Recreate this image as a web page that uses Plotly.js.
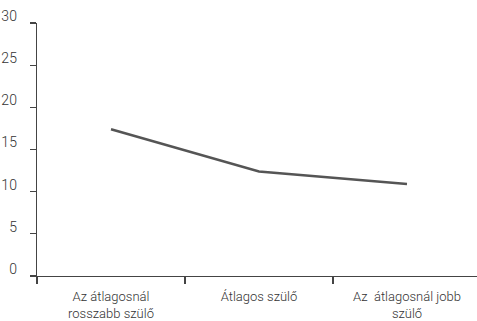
<!DOCTYPE html>
<html><head><meta charset="utf-8">
<script src="https://cdn.plot.ly/plotly-3.0.1.min.js"></script>
<style>body{margin:0;background:#fff}#c{width:477px;height:321px}</style>
</head><body><div id="c"></div>
<script>
const categories = ["Az átlagosnál<br>rosszabb szülő", "Átlagos szülő", "Az  átlagosnál jobb<br>szülő"];
const values = [17.4, 12.4, 10.9];
const yTicks = [0, 5, 10, 15, 20, 25, 30];

const font = {family: "Roboto, sans-serif", size: 13, color: "#333", weight: 300};
const yfont = {family: "Roboto, sans-serif", size: 14, color: "#333", weight: 300};
Plotly.newPlot("c", [{
  x: categories, y: values, type: "scatter", mode: "lines",
  line: {color: "#555555", width: 2.5}, hoverinfo: "skip"
}], {
  width: 477, height: 321,
  margin: {l: 37, r: 0, t: 23, b: 45},
  paper_bgcolor: "#fff", plot_bgcolor: "#fff",
  showlegend: false,
  font: font,
  xaxis: {
    type: "category", range: [-0.5, 2.473], showgrid: false, zeroline: false,
    showline: true, linecolor: "#444", linewidth: 1.3,
    ticks: "outside", ticklen: 7, tickcolor: "#444", tickwidth: 1.3, tickson: "boundaries",
    tickfont: font, ticklabelstandoff: 8, fixedrange: true
  },
  yaxis: {
    range: [0, 30], tickvals: yTicks, ticktext: yTicks.map(String),
    showgrid: false, zeroline: false,
    showline: true, linecolor: "#444", linewidth: 1.3,
    ticks: "outside", ticklen: 6, tickcolor: "#444", tickwidth: 1.3,
    tickfont: yfont, ticklabelshift: -7, ticklabelstandoff: 10, fixedrange: true
  }
}, {staticPlot: true});
</script></body></html>
